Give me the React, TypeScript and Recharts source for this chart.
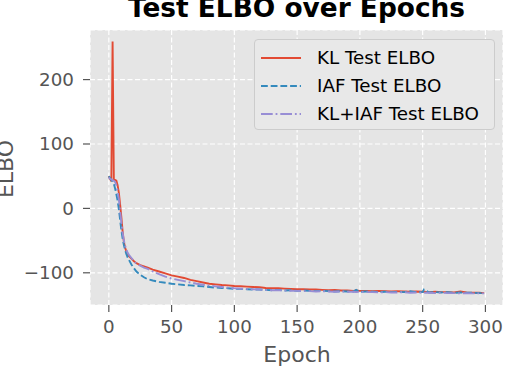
import React from 'react';
import { LineChart, Line, XAxis, YAxis, CartesianGrid, Legend } from 'recharts';

const epochs = [
  0, 1, 2, 3, 4, 5, 6, 7, 8, 9, 10, 11, 12, 13, 14, 15, 16, 18, 20, 22, 25, 28, 31, 35,
  40, 45, 50, 55, 60, 65, 70, 75, 80, 85, 90, 95,
  100, 105, 110, 115, 120, 125, 130, 135, 140, 145, 150, 155, 160, 165, 170, 175, 180, 185, 190, 195, 197,
  200, 205, 210, 215, 220, 225, 230, 235, 240, 245, 250, 251, 255, 260, 265, 270, 275, 280, 285, 290, 295, 299,
];

const klElbo = [
  50, 46, 42, 259, 44, 44, 43, 36, 24, 6, -14, -36, -52, -61, -67, -71, -74, -78, -82, -85, -88, -90, -92, -95,
  -98, -101, -104, -106, -108, -111, -113, -115, -117, -118, -119, -119.5,
  -120.5, -121, -121.5, -122, -122.5, -123.5, -124, -124, -124.5, -125, -125.5, -125.5, -126, -126, -126.5, -127, -126.5, -127.5, -127.5, -128, -127.5,
  -128, -128, -128.5, -128, -128.5, -129, -128.5, -129, -129.5, -129, -129.5, -129.5, -130, -129.5, -130, -130, -130.5, -129, -130.5, -131, -131, -131.5,
];

const iafElbo = [
  50, 47, 44, 42, 38, 31, 22, 12, -1, -18, -34, -47, -57, -65, -71, -76, -80, -87, -93, -98, -103, -107, -110, -112,
  -114, -115.5, -117, -118, -119, -119.5, -120.5, -121, -122, -123, -123.5, -124,
  -125, -125, -125.5, -126, -126, -126.5, -127, -126.5, -127.5, -127, -128, -127.5, -128, -128.5, -128, -128.5, -129, -128.5, -129, -129, -126.5,
  -129.5, -129, -129.5, -130, -129.5, -130, -129.5, -130, -128.5, -130, -130, -126, -130.5, -130, -130.5, -130, -131, -130.5, -131, -131, -131.5, -131.5,
];

const klIafElbo = [
  48, 46, 45, 44, 43, 41, 36, 27, 14, -4, -22, -38, -50, -58, -64, -69, -72, -77, -82, -86, -89, -92, -94, -98,
  -102, -106, -109, -111, -113, -115, -117, -118.5, -120, -121, -122, -123,
  -124, -124.5, -125, -125.5, -126, -126.5, -127, -127, -127.5, -128, -128, -128.5, -128.5, -129, -128.5, -129, -129.5, -129, -129.5, -129.5, -130,
  -129.5, -130, -130, -130.5, -130, -130.5, -130.5, -130, -131, -130.5, -131, -131, -131, -131.5, -131, -131.5, -131.5, -132, -131.5, -132, -132, -132,
];

const xTicks = [0, 50, 100, 150, 200, 250, 300];
const yTicks = [-100, 0, 100, 200];

const seriesInfo = [
  { key: 'kl', name: 'KL Test ELBO', color: '#E24A33', dash: undefined },
  { key: 'iaf', name: 'IAF Test ELBO', color: '#348ABD', dash: '6.8 2.9' },
  { key: 'klIaf', name: 'KL+IAF Test ELBO', color: '#988ED5', dash: '11.7 2.9 1.8 2.9' },
];

const data = epochs.map((e, i) => ({
  epoch: e,
  kl: klElbo[i],
  iaf: iafElbo[i],
  klIaf: klIafElbo[i],
}));

const FONT = '"DejaVu Sans", sans-serif';

const fmt = (v: number) => (v < 0 ? '\u2212' + Math.abs(v) : String(v));

const LegendBox = () => (
  <div style={{
    width: 241,
    height: 91,
    boxSizing: 'border-box',
    background: '#E8E8E8',
    border: '1px solid #CCCCCC',
    borderRadius: 4,
    paddingTop: 4,
    fontFamily: FONT,
  }}>
    {seriesInfo.map(s => (
      <div key={s.key} style={{ display: 'flex', alignItems: 'center', height: 28 }}>
        <svg width={40} height={10} style={{ marginLeft: 6 }}>
          <line x1={0} y1={5} x2={40} y2={5} stroke={s.color} strokeWidth={1.9} strokeDasharray={s.dash} />
        </svg>
        <span style={{ marginLeft: 16, fontSize: 18.3, color: '#000', lineHeight: '28px' }}>{s.name}</span>
      </div>
    ))}
  </div>
);

export default function App() {
  return (
    <div style={{ position: 'absolute', left: 0, top: 0, width: 515, height: 366, background: '#fff', overflow: 'hidden' }}>
      <LineChart width={515} height={366} data={data} margin={{ top: 30, right: 12, bottom: 0, left: 0 }}>
        <CartesianGrid fill="#E5E5E5" stroke="#FFFFFF" strokeWidth={1.2} strokeDasharray="5 2.5" />
        <XAxis
          dataKey="epoch"
          type="number"
          domain={[-15, 314]}
          ticks={xTicks}
          allowDataOverflow
          height={61}
          axisLine={false}
          tickSize={7}
          tickMargin={8}
          tickLine={{ stroke: '#555555', strokeWidth: 1.2 }}
          tick={{ fill: '#555555', fontSize: 18.3, fontFamily: FONT }}
        />
        <YAxis
          type="number"
          domain={[-150, 277]}
          ticks={yTicks}
          allowDataOverflow
          width={90}
          axisLine={false}
          tickSize={7}
          tickMargin={9}
          tickFormatter={fmt}
          tickLine={{ stroke: '#555555', strokeWidth: 1.2 }}
          tick={{ fill: '#555555', fontSize: 18.3, fontFamily: FONT }}
        />
        {seriesInfo.map(s => (
          <Line
            key={s.key}
            dataKey={s.key}
            name={s.name}
            type="linear"
            stroke={s.color}
            strokeWidth={1.9}
            strokeDasharray={s.dash}
            dot={false}
            activeDot={false}
            isAnimationActive={false}
          />
        ))}
        <Legend
          layout="horizontal"
          verticalAlign="middle"
          align="center"
          wrapperStyle={{ left: 254, top: 39, width: 241 }}
          content={() => <LegendBox />}
        />
      </LineChart>
      <svg width={515} height={366} style={{ position: 'absolute', left: 0, top: 0, pointerEvents: 'none' }}>
        <text x={296.5} y={17} textAnchor="middle" fontFamily={FONT} fontWeight="bold" fontSize={26.4} fill="#000">
          Test ELBO over Epochs
        </text>
        <text x={297} y={362} textAnchor="middle" fontFamily={FONT} fontSize={22} fill="#555555">
          Epoch
        </text>
        <text x={13} y={169} transform="rotate(-90 13 169)" textAnchor="middle" fontFamily={FONT} fontSize={22} fill="#555555">
          ELBO
        </text>
      </svg>
    </div>
  );
}
